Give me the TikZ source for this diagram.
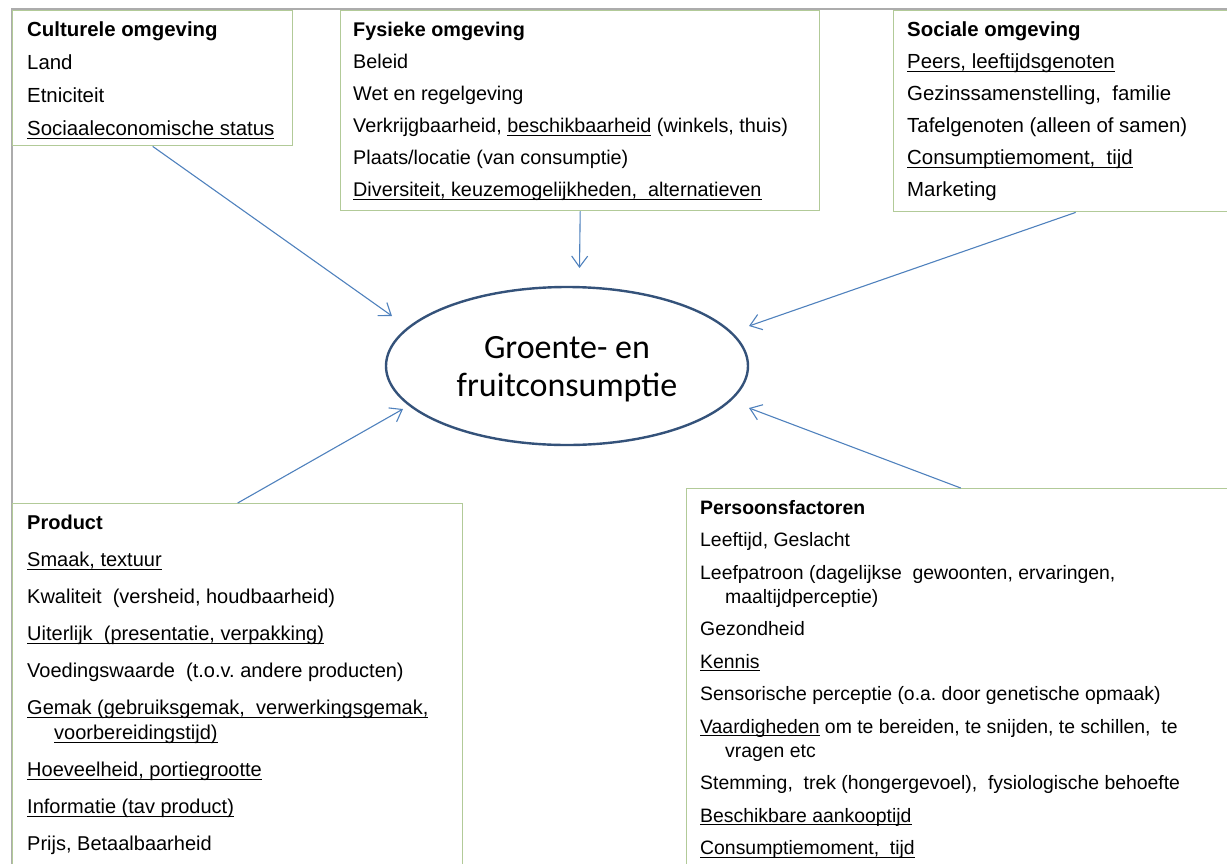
\documentclass[tikz,border=0pt]{standalone}
\usepackage{fontspec}
\setmainfont{Liberation Sans}
\newfontfamily\ovalfont{Carlito}
\usetikzlibrary{arrows.meta,positioning,shapes.geometric}
\definecolor{boxgreen}{RGB}{178,202,152}
\definecolor{framegray}{RGB}{172,172,172}
\definecolor{arrowblue}{RGB}{79,129,189}
\definecolor{ovalblue}{RGB}{52,82,122}
\newsavebox{\ulinebox}
\newcommand{\uline}[1]{\sbox{\ulinebox}{#1}%
  \rlap{\rule[-3.2pt]{\wd\ulinebox}{1.1pt}}\usebox{\ulinebox}}

\begin{document}
\begin{tikzpicture}[x=1pt, y=-1pt,
                    factor/.style={draw=boxgreen, line width=1.4pt, fill=white,
                                   anchor=north west, inner sep=0pt},
                    items/.style={align=left, inner sep=0pt,
                                  font=\fontsize{20.4}{24}\selectfont},
                    influence/.style={draw=arrowblue, line width=1.1pt,
                                      -{Straight Barb[length=11pt,width=16pt]}}]
  \useasboundingbox (0,0) rectangle (1227,863);
  \clip (0,0) rectangle (1227,863);
  % outer frame, cut off at the right and at the bottom
  \draw[framegray, line width=1.5pt] (12,9) rectangle (1270,900);
  % factor boxes
  \node[factor, minimum width=280, minimum height=135] (cult) at (12,10) {};
  \node[factor, minimum width=479, minimum height=200] (fys)  at (340,10) {};
  \node[factor, minimum width=364, minimum height=201] (soc)  at (893,10) {};
  \node[factor, minimum width=450, minimum height=400] (prod) at (12,503) {};
  \node[factor, minimum width=548, minimum height=400] (pers) at (686,488) {};
  \node[items, below right=12pt and 15pt of cult.north west] (culttext)
       {\textbf{Culturele omgeving}\\[9pt]
        Land\\[9pt]
        Etniciteit\\[9pt]
        \uline{Sociaaleconomische status}};
  \node[items, font=\fontsize{19.8}{24}\selectfont,
        below right=12pt and 13pt of fys.north west] (fystext)
       {\textbf{Fysieke omgeving}\\[8pt]
        Beleid\\[8pt]
        Wet en regelgeving\\[8pt]
        Verkrijgbaarheid, \uline{beschikbaarheid} (winkels, thuis)\\[8pt]
        Plaats/locatie (van consumptie)\\[8pt]
        \uline{Diversiteit, keuzemogelijkheden,\ \ alternatieven}};
  \node[items, below right=12pt and 14pt of soc.north west] (soctext)
       {\textbf{Sociale omgeving}\\[8pt]
        \uline{Peers, leeftijdsgenoten}\\[8pt]
        Gezinssamenstelling,\ \ familie\\[8pt]
        Tafelgenoten (alleen of samen)\\[8pt]
        \uline{Consumptiemoment,\ \ tijd}\\[8pt]
        Marketing};
  \node[items, font=\fontsize{20}{25}\selectfont,
        below right=12pt and 15pt of prod.north west] (prodtext)
       {\textbf{Product}\\[12pt]
        \uline{Smaak, textuur}\\[12pt]
        Kwaliteit\ \ (versheid, houdbaarheid)\\[12pt]
        \uline{Uiterlijk\ \ (presentatie, verpakking)}\\[12pt]
        Voedingswaarde\ \ (t.o.v.\ andere producten)\\[12pt]
        \uline{Gemak (gebruiksgemak,\ \ verwerkingsgemak,}\\
        \hspace*{27pt}\uline{voorbereidingstijd)}\\[12pt]
        \uline{Hoeveelheid, portiegrootte}\\[12pt]
        \uline{Informatie (tav product)}\\[12pt]
        Prijs, Betaalbaarheid};
  \node[items, font=\fontsize{19.4}{24}\selectfont,
        below right=12pt and 14pt of pers.north west] (perstext)
       {\textbf{Persoonsfactoren}\\[8.5pt]
        Leeftijd, Geslacht\\[8.5pt]
        Leefpatroon (dagelijkse\ \ gewoonten,\ ervaringen,\\
        \hspace*{25pt}maaltijdperceptie)\\[8.5pt]
        Gezondheid\\[8.5pt]
        \uline{Kennis}\\[8.5pt]
        Sensorische perceptie (o.a.\ door genetische opmaak)\\[8.5pt]
        \uline{Vaardigheden} om te bereiden, te snijden, te schillen,\ \ te\\
        \hspace*{25pt}vragen etc\\[8.5pt]
        Stemming,\ \ trek (hongergevoel),\ \ fysiologische behoefte\\[8.5pt]
        \uline{Beschikbare aankooptijd}\\[8.5pt]
        \uline{Consumptiemoment,\ \ tijd}};
  % central outcome
  \node[ellipse, draw=ovalblue, line width=2.4pt, fill=white,
        minimum width=362, minimum height=158, align=center, text depth=0pt,
        font=\ovalfont\fontsize{34}{38}\selectfont] (gfc) at (567,366)
       {Groente- en\\fruitconsumptie};
  % arrow ends, short of the oval
  \coordinate (cultend) at (392,316);
  \coordinate (fysend)  at (579.5,268);
  \coordinate (socend)  at (749,326);
  \coordinate (prodend) at (403,409);
  \coordinate (persend) at (749,408);
  \draw[influence] (cult.south) -- (cultend);
  \draw[influence] (fys.south)  -- (fysend);
  \draw[influence] (soc.south)  -- (socend);
  \draw[influence] (prod.north) -- (prodend);
  \draw[influence] (pers.north) -- (persend);
\end{tikzpicture}
\end{document}
